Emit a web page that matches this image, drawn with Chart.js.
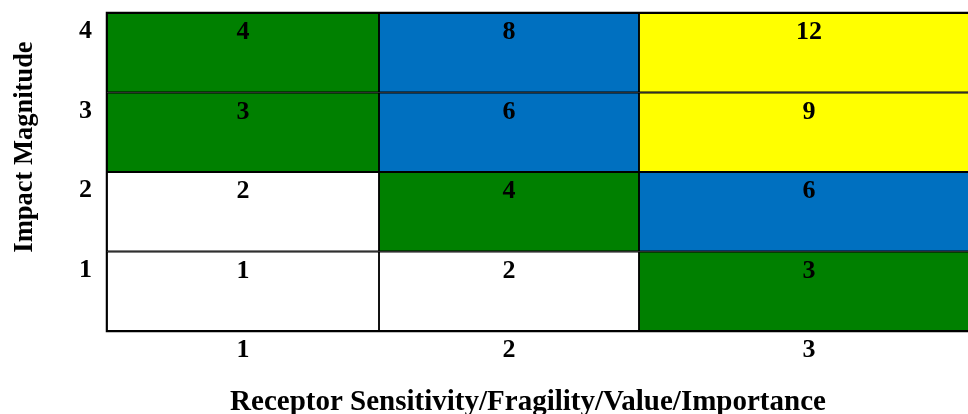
<!DOCTYPE html>
<html>
<head>
<meta charset="utf-8">
<script src="https://cdn.jsdelivr.net/npm/chart.js@4.4.1/dist/chart.umd.min.js"></script>
<style>
  html, body { margin: 0; padding: 0; background: #ffffff; }
  #wrap { width: 968px; height: 414px; position: relative; }
</style>
</head>
<body>
<div id="wrap"><canvas id="c"></canvas></div>
<script>
// ---- data ----
const impactLevels = ['1', '2', '3', '4'];          // y categories, bottom → top
const sensitivityLevels = ['1', '2', '3'];          // x categories, left → right
const scoresImpact1 = [1, 2, 3];
const scoresImpact2 = [2, 4, 6];
const scoresImpact3 = [3, 6, 9];
const scoresImpact4 = [4, 8, 12];
const xAxisTitle = 'Receptor Sensitivity/Fragility/Value/Importance';
const yAxisTitle = 'Impact Magnitude';

// ---- layout / style ----
const COLUMN_WIDTHS = [272, 260, 340];   // relative column widths of the table
const VISIBLE_WIDTH = 861;               // table is cut by the page edge
const FONT_FAMILY = '"Liberation Serif", "DejaVu Serif", serif';
const FONT_SIZE = 26;
const X_TITLE_SIZE = 29;
const Y_TITLE_SIZE = 26.5;
const LINE_W = 1.25;

function scoreColor(s) {
  if (s >= 9) return '#FFFF00';
  if (s >= 6) return '#0070C0';
  if (s >= 3) return '#008000';
  return '#FFFFFF';
}

const scoreRows = [scoresImpact1, scoresImpact2, scoresImpact3, scoresImpact4];

const datasets = sensitivityLevels.map((lvl, col) => {
  const scores = impactLevels.map((_, row) => scoreRows[row][col]);
  return {
    label: lvl,
    data: impactLevels.map(() => COLUMN_WIDTHS[col]),
    scores: scores,
    backgroundColor: scores.map(scoreColor),
    borderColor: '#000000',
    borderWidth: LINE_W,
    borderSkipped: false,
    barPercentage: 1,
    categoryPercentage: 1
  };
});

const colCenters = [];
{
  let acc = 0;
  COLUMN_WIDTHS.forEach(w => { colCenters.push(acc + w / 2); acc += w; });
}

const cellLabels = {
  id: 'cellLabels',
  afterDatasetsDraw(chart) {
    const ctx = chart.ctx;
    ctx.save();
    ctx.font = 'bold ' + FONT_SIZE + 'px ' + FONT_FAMILY;
    ctx.fillStyle = '#000';
    ctx.textAlign = 'center';
    ctx.textBaseline = 'alphabetic';
    chart.data.datasets.forEach((ds, di) => {
      chart.getDatasetMeta(di).data.forEach((bar, ri) => {
        const cx = (bar.base + bar.x) / 2;
        const top = bar.y - bar.height / 2;
        ctx.fillText(String(ds.scores[ri]), cx, top + 26);
      });
    });
    // outer frame
    const a = chart.chartArea;
    ctx.strokeStyle = '#000';
    ctx.lineWidth = LINE_W;
    const h = LINE_W / 2;
    ctx.beginPath();
    ctx.moveTo(a.right + 5, a.top - h);
    ctx.lineTo(a.left - h, a.top - h);
    ctx.lineTo(a.left - h, a.bottom + h);
    ctx.lineTo(a.right + 5, a.bottom + h);
    ctx.stroke();
    ctx.restore();
  }
};

const axisTitles = {
  id: 'axisTitles',
  afterDraw(chart) {
    const ctx = chart.ctx;
    ctx.save();
    ctx.fillStyle = '#000';
    ctx.textAlign = 'center';
    ctx.textBaseline = 'alphabetic';
    ctx.font = 'bold ' + X_TITLE_SIZE + 'px ' + FONT_FAMILY;
    ctx.fillText(xAxisTitle, 528, 410);
    ctx.font = 'bold ' + Y_TITLE_SIZE + 'px ' + FONT_FAMILY;
    ctx.translate(32, 147);
    ctx.rotate(-Math.PI / 2);
    ctx.fillText(yAxisTitle, 0, 0);
    ctx.restore();
  }
};

new Chart(document.getElementById('c'), {
  type: 'bar',
  data: { labels: impactLevels, datasets: datasets },
  options: {
    indexAxis: 'y',
    responsive: true,
    maintainAspectRatio: false,
    animation: false,
    layout: { padding: { top: 13, right: 0, left: 0, bottom: 0 } },
    plugins: { legend: { display: false }, tooltip: { enabled: false } },
    scales: {
      x: {
        type: 'linear',
        stacked: true,
        min: 0,
        max: VISIBLE_WIDTH,
        grid: { display: false, drawTicks: false },
        border: { display: false },
        afterBuildTicks(axis) { axis.ticks = colCenters.map(v => ({ value: v })); },
        afterFit(axis) { axis.height = 83; axis.paddingLeft = 0; axis.paddingRight = 0; },
        ticks: {
          autoSkip: false,
          maxRotation: 0,
          padding: 4,
          color: '#000',
          font: { family: FONT_FAMILY, size: FONT_SIZE, weight: 'bold' },
          callback: (v, i) => sensitivityLevels[i]
        }
      },
      y: {
        type: 'category',
        stacked: true,
        reverse: true,
        grid: { display: false, drawTicks: false },
        border: { display: false },
        afterFit(axis) { axis.width = 107; axis.paddingTop = 0; axis.paddingBottom = 0; },
        ticks: {
          padding: 15,
          labelOffset: -21,
          color: '#000',
          font: { family: FONT_FAMILY, size: FONT_SIZE, weight: 'bold' }
        }
      }
    }
  },
  plugins: [cellLabels, axisTitles]
});
</script>
</body>
</html>
